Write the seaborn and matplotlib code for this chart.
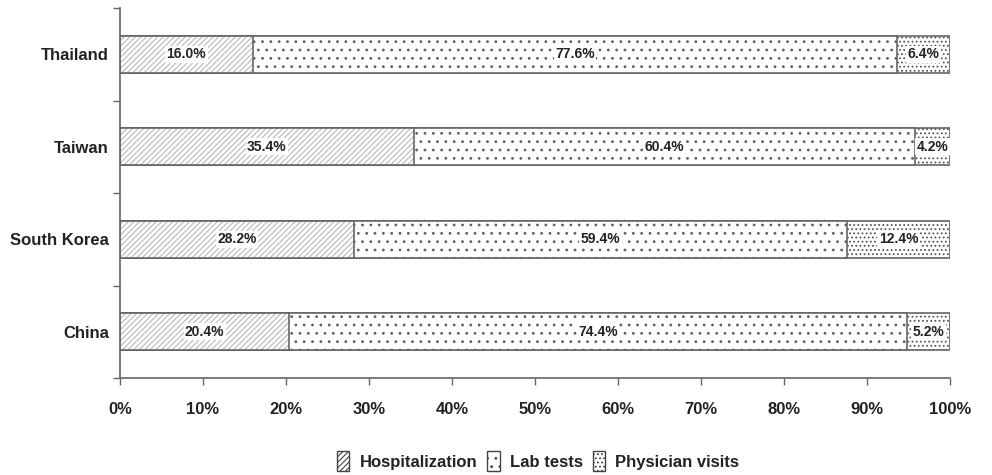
import matplotlib
matplotlib.use("Agg")
import matplotlib.pyplot as plt
import seaborn as sns
import numpy as np
import pandas as pd

countries = ["Thailand", "Taiwan", "South Korea", "China"]
hospitalization = [16.0, 35.4, 28.2, 20.4]
lab_tests = [77.6, 60.4, 59.4, 74.4]
physician_visits = [6.4, 4.2, 12.4, 5.2]
series_names = ["Hospitalization", "Lab tests", "Physician visits"]
xtick_values = [0, 10, 20, 30, 40, 50, 60, 70, 80, 90, 100]

sns.set_theme(style="white")
plt.rcParams["font.family"] = ["Liberation Sans", "DejaVu Sans"]
plt.rcParams["hatch.linewidth"] = 0.8

fig = plt.figure(figsize=(9.92, 4.75), dpi=100)
ax = fig.add_axes([120 / 992, 1 - 378 / 475, 830 / 992, 370 / 475])

df = pd.DataFrame({"country": countries,
                   "Hospitalization": hospitalization,
                   "Lab tests": lab_tests,
                   "Physician visits": physician_visits})
df["c1"] = df["Hospitalization"]
df["c2"] = df["c1"] + df["Lab tests"]
df["c3"] = df["c2"] + df["Physician visits"]

styles = {
    "Physician visits": dict(col="c3", hatch="....", hc="#555555"),
    "Lab tests": dict(col="c2", hatch="..", hc="#606060"),
    "Hospitalization": dict(col="c1", hatch="//////", hc="#b8b8b8"),
}
handles = {}
for name in ["Physician visits", "Lab tests", "Hospitalization"]:
    st = styles[name]
    n0 = len(ax.patches)
    sns.barplot(data=df, y="country", x=st["col"], orient="h", order=countries,
                color="white", width=0.4, ax=ax, saturation=1)
    for p in ax.patches[n0:]:
        p.set_facecolor("white")
        p.set_hatch(st["hatch"])
        p.set_edgecolor(st["hc"])
        p.set_linewidth(0)
    n1 = len(ax.patches)
    sns.barplot(data=df, y="country", x=st["col"], orient="h", order=countries,
                fill=False, width=0.4, ax=ax)
    for p in ax.patches[n1:]:
        p.set_facecolor("none")
        p.set_edgecolor("#666666")
        p.set_linewidth(1.2)
    handles[name] = plt.Rectangle((0, 0), 1, 1, facecolor="white",
                                  edgecolor="#444444", hatch=st["hatch"], lw=1)

for i, c in enumerate(countries):
    starts = [0, df.loc[i, "c1"], df.loc[i, "c2"]]
    vals = [hospitalization[i], lab_tests[i], physician_visits[i]]
    for s, v in zip(starts, vals):
        ax.text(s + v / 2, i, f"{v:.1f}%", ha="center", va="center",
                fontsize=10, fontweight="bold", color="#222222",
                bbox=dict(facecolor="white", edgecolor="none", pad=1.0))

ax.set_xlim(0, 100)
ax.set_ylim(3.5, -0.5)
ax.set_xticks(xtick_values)
ax.set_xticklabels([f"{v}%" for v in xtick_values], fontsize=12,
                   fontweight="bold", color="#222222")
ax.set_yticks(range(len(countries)))
ax.set_yticklabels(countries, fontsize=12, fontweight="bold", color="#222222")
ax.set_yticks(np.arange(-0.5, 4.0, 1.0), minor=True)
ax.tick_params(axis="y", which="major", length=0, pad=8)
ax.tick_params(axis="y", which="minor", length=5, width=1, color="#666666",
               direction="out", left=True)
ax.tick_params(axis="x", which="major", length=5, width=1, color="#666666",
               direction="out", bottom=True, pad=12)
ax.set_xlabel("")
ax.set_ylabel("")
for s in ["top", "right"]:
    ax.spines[s].set_visible(False)
for s in ["left", "bottom"]:
    ax.spines[s].set_color("#666666")
    ax.spines[s].set_linewidth(1.2)

leg = fig.legend([handles[n] for n in series_names], series_names,
                 loc="center", bbox_to_anchor=(538 / 992, 1 - 461 / 475), ncol=3,
                 frameon=False, handlelength=0.75, handleheight=1.4,
                 handletextpad=0.6, columnspacing=0.6, borderaxespad=0,
                 prop=dict(size=12, weight="bold"))
for t in leg.get_texts():
    t.set_color("#222222")

fig.savefig("out.png", dpi=100, facecolor="white")
